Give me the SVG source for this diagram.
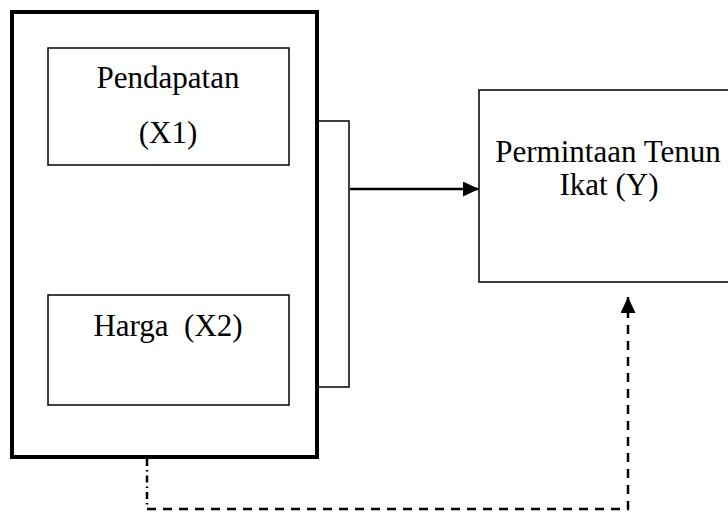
<svg xmlns="http://www.w3.org/2000/svg" width="728" height="512" viewBox="0 0 728 512">
<style>
.box{fill:none;stroke:#000;stroke-width:1.5}
.outer{fill:none;stroke:#000;stroke-width:4}
.t{font-family:"Liberation Serif","Times New Roman",serif;font-size:31px;fill:#000;text-anchor:middle;white-space:pre}
.ln{fill:none;stroke:#000}
</style>
<defs>
<marker id="ah" markerUnits="userSpaceOnUse" markerWidth="16" markerHeight="15" refX="16" refY="7.5" orient="auto">
<path d="M0,0 L16,7.5 L0,15 Z" fill="#000"/>
</marker>
</defs>
<rect width="728" height="512" fill="#fff"/>
<g id="outer-group">
<rect class="outer" x="12" y="12" width="305" height="445"/>
</g>
<g id="pendapatan">
<rect class="box" x="48" y="48" width="241" height="117"/>
<text class="t" x="168" y="88">Pendapatan</text>
<text class="t" x="168" y="143">(X1)</text>
</g>
<g id="harga">
<rect class="box" x="48" y="295" width="241" height="110"/>
<text class="t" x="168" y="336">Harga  (X2)</text>
</g>
<g id="permintaan">
<rect class="box" x="479" y="90" width="260" height="192"/>
<text class="t" x="608" y="162">Permintaan Tenun</text>
<text class="t" x="609" y="195">Ikat (Y)</text>
</g>
<g id="connectors">
<path class="ln" stroke-width="1.5" d="M318,121 H349 V387 H318"/>
<path class="ln" stroke-width="2.5" d="M350,189 H479" marker-end="url(#ah)"/>
<path class="ln" stroke-width="2.5" d="M147,459 V508" stroke-dasharray="7,4,1.5,4"/>
<path class="ln" stroke-width="2.5" d="M147,509 H628 V297" stroke-dasharray="9,7" marker-end="url(#ah)"/>
</g>
</svg>
